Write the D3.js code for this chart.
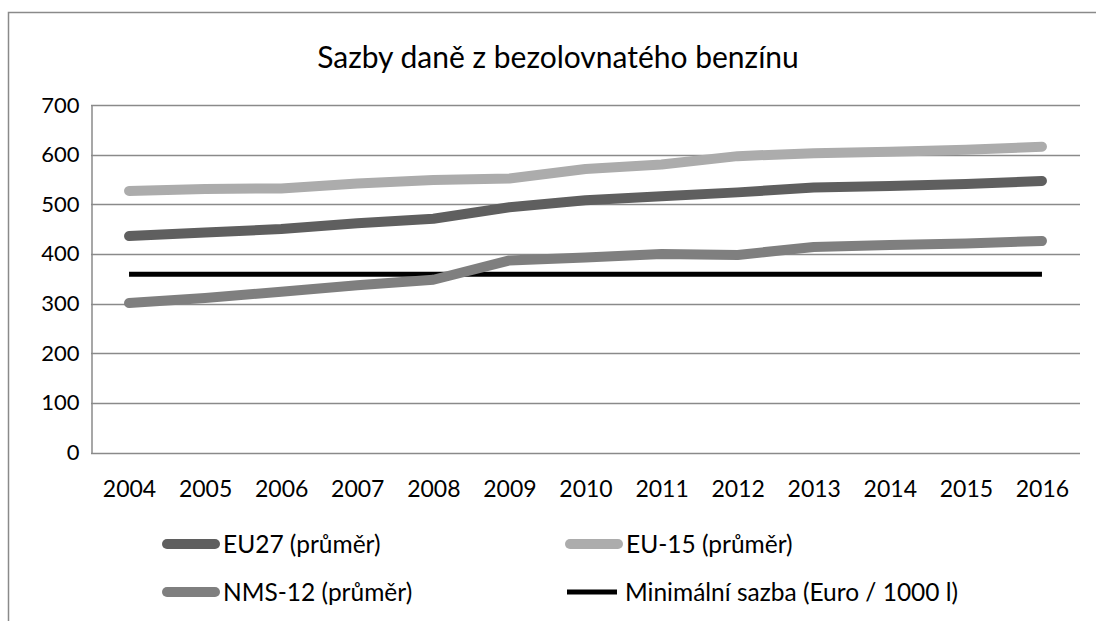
<!DOCTYPE html>
<html>
<head>
<meta charset="utf-8">
<script src="https://cdn.jsdelivr.net/npm/d3@7"></script>
<style>
  body { margin: 0; background: #fff; }
  svg { display: block; font-family: Lato, "Open Sans", sans-serif; }
</style>
</head>
<body>
<div id="chart"></div>
<script>
// Data
const years = ['2004', '2005', '2006', '2007', '2008', '2009', '2010', '2011', '2012', '2013', '2014', '2015', '2016'];
const eu27 = [436, 443, 450, 462, 471, 494, 508, 516, 524, 534, 537, 541, 547];
const eu15 = [527, 531, 532, 542, 549, 552, 571, 580, 597, 603, 606, 610, 616];
const nms12 = [301, 311, 324, 337, 348, 387, 393, 400, 398, 414, 418, 421, 426];
const minRate = [359, 359, 359, 359, 359, 359, 359, 359, 359, 359, 359, 359, 359];
const yTicks = [0, 100, 200, 300, 400, 500, 600, 700];

const seriesNames = ['EU27 (průměr)', 'EU-15 (průměr)', 'NMS-12 (průměr)', 'Minimální sazba (Euro / 1000 l)'];
const seriesColors = ['#5f5f5f', '#acacac', '#7f7f7f', '#000000'];

const width = 1096;
const height = 621;
const margin = { top: 105, right: 16, bottom: 168.5, left: 91 };

const svg = d3.select('#chart')
    .append('svg')
    .attr('width', width)
    .attr('height', height);

// Outer chart frame (cut off at right and bottom)
svg.append('path')
    .attr('d', `M8.5,${height} V12.5 H${width}`)
    .attr('fill', 'none')
    .attr('stroke', '#8a8a8a')
    .attr('stroke-width', 1.5);

// Title
svg.append('text')
    .attr('x', 558)
    .attr('y', 68)
    .attr('text-anchor', 'middle')
    .attr('font-size', 30)
    .attr('fill', '#000')
    .text('Sazby daně z bezolovnatého benzínu');

const x = d3.scalePoint()
    .domain(years)
    .range([margin.left, width - margin.right])
    .padding(0.5);

const y = d3.scaleLinear()
    .domain([0, 700])
    .range([height - margin.bottom, margin.top]);

// Gridlines
svg.append('g')
    .selectAll('line')
    .data(yTicks)
    .enter()
    .append('line')
    .attr('x1', margin.left)
    .attr('x2', width - margin.right)
    .attr('y1', d => Math.round(y(d)) + 0.5)
    .attr('y2', d => Math.round(y(d)) + 0.5)
    .attr('stroke', '#8a8a8a')
    .attr('stroke-width', 1.5);

// Y axis
const yAxis = svg.append('g')
    .attr('transform', `translate(${margin.left + 0.5},0)`)
    .call(d3.axisLeft(y).tickValues(yTicks).tickSize(0).tickPadding(12));
yAxis.select('.domain').attr('stroke', '#8a8a8a').attr('stroke-width', 1.5);
yAxis.selectAll('text')
    .attr('font-size', 22)
    .attr('font-family', 'Lato, sans-serif')
    .attr('fill', '#000');

// X axis
const xAxis = svg.append('g')
    .attr('transform', `translate(0,${Math.round(y(0)) + 0.5})`)
    .call(d3.axisBottom(x).tickSize(0).tickPadding(27));
xAxis.select('.domain').remove();
xAxis.selectAll('text')
    .attr('font-size', 23)
    .attr('font-family', 'Lato, sans-serif')
    .attr('fill', '#000');

// Series lines
const allSeries = [eu27, eu15, nms12, minRate];
const line = d3.line()
    .x((d, i) => x(years[i]))
    .y(d => y(d));

// draw order: min rate first, then NMS, EU27, EU-15
[3, 2, 0, 1].forEach(k => {
    svg.append('path')
        .datum(allSeries[k])
        .attr('d', line)
        .attr('fill', 'none')
        .attr('stroke', seriesColors[k])
        .attr('stroke-width', k === 3 ? 5 : 10)
        .attr('stroke-linecap', k === 3 ? 'butt' : 'round')
        .attr('stroke-linejoin', 'round');
});

// Legend
const legendPos = [[162, 544], [565, 544], [162, 592], [565, 592]];
const legend = svg.append('g')
    .selectAll('g')
    .data(seriesNames)
    .enter()
    .append('g')
    .attr('transform', (d, i) => `translate(${legendPos[i][0]},${legendPos[i][1]})`);

legend.append('line')
    .attr('x1', (d, i) => i === 3 ? 2 : 5)
    .attr('x2', (d, i) => i === 3 ? 52 : 53)
    .attr('stroke', (d, i) => seriesColors[i])
    .attr('stroke-width', (d, i) => i === 3 ? 5 : 10)
    .attr('stroke-linecap', (d, i) => i === 3 ? 'butt' : 'round');

legend.append('text')
    .attr('x', (d, i) => i === 3 ? 60 : 61)
    .attr('dy', '0.35em')
    .attr('font-size', 24.5)
    .attr('fill', '#000')
    .text(d => d);
</script>
</body>
</html>
